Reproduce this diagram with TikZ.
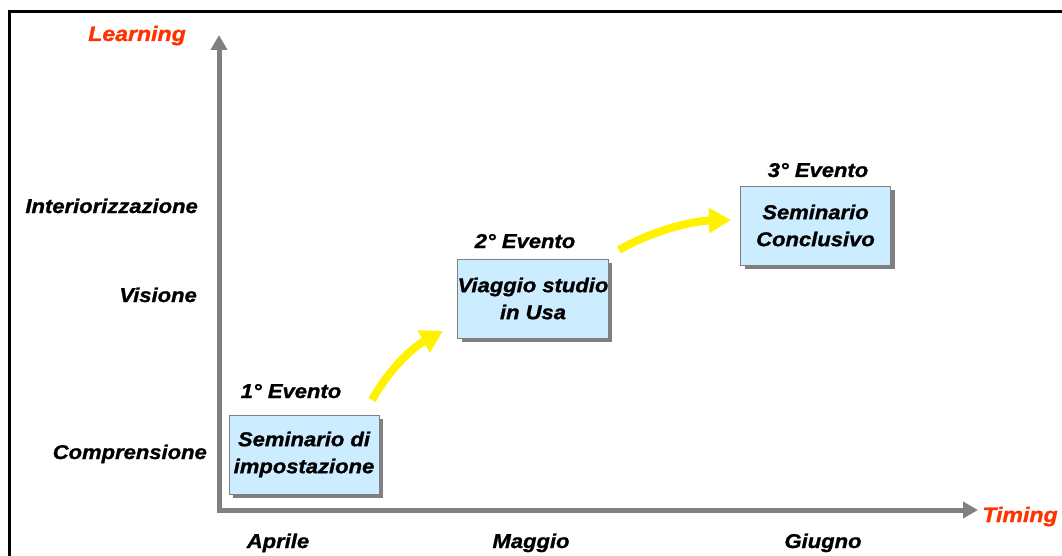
\documentclass[tikz,border=0pt]{standalone}
\usepackage{fontspec}
\setmainfont{Liberation Sans}[FakeStretch=1.1, BoldItalicFeatures={FakeBold=1.2}]
\usetikzlibrary{arrows.meta,shadows}
\definecolor{boxblue}{HTML}{CCECFF}
\definecolor{titlered}{HTML}{FF3300}
\definecolor{axisgray}{HTML}{808080}
\begin{document}
\begin{tikzpicture}[
	x=1pt, y=-1pt,
	font=\fontsize{20}{27}\selectfont\bfseries\itshape,
	lbl/.style={
		inner sep=0pt,
		anchor=base,
	},
	title/.style={
		lbl,
		text=titlered,
		font=\fontsize{21}{27}\selectfont\bfseries\itshape,
	},
	event/.style={
		rectangle,
		draw=gray,
		fill=boxblue,
		thin,
		inner sep=0pt,
		minimum width=150pt,
		minimum height=79pt,
		align=center,
		drop shadow={shadow xshift=4pt, shadow yshift=-4pt, fill=gray, opacity=1},
	},
	axis/.style={% Grey axes with triangle heads
		draw=axisgray,
		line width=5pt,
		arrows={Triangle[width=16pt,length=15pt]-Triangle[width=16pt,length=15pt]},
	},
	flow/.style={% Yellow curved arrows
		draw=yellow,
		line width=8pt,
		-{Triangle[width=24pt,length=22pt]},
	},
]
	\useasboundingbox (0,0) rectangle (1062,556);
	\draw [line width=3pt] (9,556) -- (9,12) -- (1062,12);

	\coordinate (ytop) at (219,35);
	\coordinate (o) at (219,510);
	\coordinate (xend) at (978,510);
	\draw [axis] (ytop) -- (o) -- (xend);

	\node [title] (learn) at (137,41) {Learning};
	\node [title] (time) at (1020,522) {Timing};

	\node [lbl, anchor=base east] (inter) at (198,213) {Interiorizzazione};
	\node [lbl, anchor=base east] (vis) at (197,302) {Visione};
	\node [lbl, anchor=base east] (comp) at (207,459) {Comprensione};

	\node [lbl] (apr) at (278,548) {Aprile};
	\node [lbl] (mag) at (531,548) {Maggio};
	\node [lbl] (giu) at (823,548) {Giugno};

	\node [event] (s1) at (304,454.5) {Seminario di\\impostazione};
	\node [event] (s2) at (533,298.5) {Viaggio studio\\in Usa};
	\node [event] (s3) at (815.5,225.5) {Seminario\\Conclusivo};

	\node [lbl] (ev1) at (291,398) {1° Evento};
	\node [lbl] (ev2) at (525,248) {2° Evento};
	\node [lbl] (ev3) at (818,177) {3° Evento};

	\coordinate (f1) at (372,400);
	\coordinate (f1e) at (443,331);
	\coordinate (f2) at (619,250);
	\coordinate (f2e) at (731,220);
	\draw [flow] (f1) .. controls (385,376) and (408,350) .. (f1e);
	\draw [flow] (f2) .. controls (650,232) and (690,221) .. (f2e);
\end{tikzpicture}
\end{document}
